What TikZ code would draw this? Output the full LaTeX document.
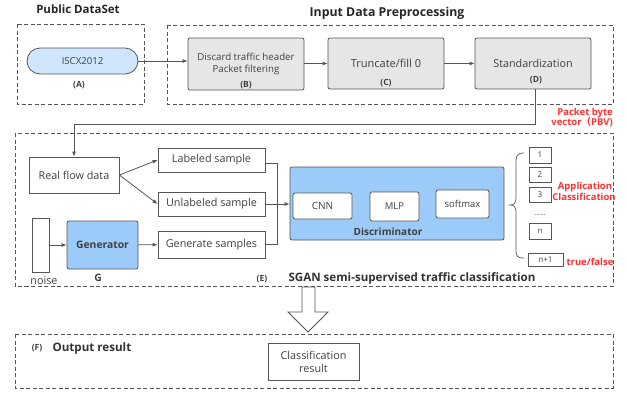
\documentclass[tikz,border=0pt]{standalone}
\usepackage{fontspec}
\setmainfont{Open Sans}
\newfontfamily\cjk{Noto Sans CJK SC}
\usetikzlibrary{arrows.meta}
\definecolor{lblue}{HTML}{9CCBFA}
\definecolor{pblue}{HTML}{CFE6FD}
\definecolor{gfill}{HTML}{E6E6E6}
\definecolor{edge}{HTML}{555555}
\definecolor{txt}{HTML}{404040}
\definecolor{rtxt}{HTML}{FF3030}
\tikzset{
  dbox/.style={draw=edge, dash pattern=on 4pt off 2.5pt, line width=0.7pt},
  gbox/.style={draw=edge, fill=gfill, rounded corners=2pt, line width=0.8pt, inner sep=0pt, align=center, text=txt},
  wbox/.style={draw=edge, fill=white, line width=0.8pt, inner sep=0pt, align=center, text=txt, font=\fontsize{10.8}{12}\selectfont},
  bbox/.style={draw=edge, fill=lblue, rounded corners=2pt, line width=0.8pt, inner sep=0pt, align=center, text=txt},
  sbox/.style={draw=edge, fill=white, line width=0.7pt, inner sep=0pt, text=txt, font=\fontsize{8}{9}\selectfont},
  ttl/.style={font=\bfseries\fontsize{11.5}{13}\selectfont, text=black!85},
  lbl/.style={font=\bfseries\fontsize{8.5}{9}\selectfont, text=txt},
  red/.style={font=\bfseries\fontsize{9.5}{10}\selectfont, text=rtxt, inner sep=0pt},
  arr/.style={-{Latex[length=5pt,width=4pt]}, draw=edge, line width=0.8pt},
  ln/.style={draw=edge, line width=0.8pt}
}
\begin{document}
\begin{tikzpicture}[x=1pt,y=-1pt]
\useasboundingbox (0,0) rectangle (627,394);
% dashed groups
\draw[dbox] (17,24) rectangle (144,104);
\draw[dbox] (167,25) rectangle (613,104);
\draw[dbox] (15,133) rectangle (613,286);
\draw[dbox] (15,334) rectangle (613,388);
% titles
\node[ttl] (tA) at (78,9) {Public DataSet};
\node[ttl, font=\bfseries\fontsize{12.3}{14}\selectfont] (tP) at (387,13) {Input Data Preprocessing};
% top row
\node[draw=edge, fill=pblue, rounded corners=13pt, minimum width=111pt, minimum height=26pt, line width=0.8pt, text=txt, font=\fontsize{9.6}{10}\selectfont, inner sep=0pt] (A) at (82.5,61) {ISCX2012};
\node[lbl] (lA) at (79,85) {(A)};
\node[gbox, minimum width=116pt, minimum height=52pt] (B) at (246,64) {};
\node[text=txt, align=center, font=\fontsize{9.7}{12}\selectfont] (Bt) at (246,64) {Discard traffic header\\Packet filtering};
\node[lbl] (lB) at (246,85) {(B)};
\node[gbox, minimum width=116pt, minimum height=51pt] (C) at (386,63.5) {};
\node[text=txt, font=\fontsize{11}{12}\selectfont] (Ct) at (386,63) {Truncate/fill 0};
\node[lbl] (lC) at (386,83) {(C)};
\node[gbox, minimum width=116pt, minimum height=51pt] (D) at (533,63.5) {};
\node[text=txt, font=\fontsize{10.8}{12}\selectfont] (Dt) at (533,63) {Standardization};
\node[lbl] (lD) at (536,80) {(D)};
\draw[arr] (A.east) -- (A.east -| B.west);
\draw[arr] (B.east |- C) -- (C.west);
\draw[arr] (C.east) -- (D.west);
% PBV
\node[red, anchor=east] (p1) at (613,113) {Packet byte};
\node[red, anchor=east] (p2) at (613,122.5) {vector{\cjk （}PBV)};
% SGAN section
\node[wbox, minimum width=90pt, minimum height=36pt] (R) at (74,175) {Real flow data};
\node[wbox, minimum width=107pt, minimum height=24pt] (L) at (211.5,160) {Labeled sample};
\node[wbox, minimum width=107pt, minimum height=24pt] (U) at (211.5,204) {Unlabeled sample};
\node[wbox, minimum width=107pt, minimum height=27pt] (Gs) at (211.5,244.5) {Generate samples};
\node[wbox, minimum width=17pt, minimum height=54pt] (N) at (40.5,245) {};
\node[text=txt, font=\fontsize{10.8}{12}\selectfont] (Nt) at (44,281) {noise};
\node[bbox, minimum width=71pt, minimum height=48pt, font=\bfseries\fontsize{10.3}{11}\selectfont] (G) at (102.5,245) {Generator};
\node[font=\bfseries\fontsize{10.3}{11}\selectfont, text=txt] (Gl) at (98,278) {G};
\coordinate (pbv) at (535,124);
\draw[arr] (pbv |- D.south) -- (pbv) -- (pbv -| R) -- (R.north);
\draw[arr] (R.east) -- (L.west);
\draw[arr] (R.east) -- (U.west);
\draw[arr] (N) -- (G);
\draw[arr] (G) -- (Gs);
\node[bbox, minimum width=214pt, minimum height=73pt] (Dis) at (397,203.5) {};
\node[font=\bfseries\fontsize{10}{11}\selectfont, text=txt] (Dl) at (388,231.5) {Discriminator};
\node[wbox, rounded corners=2pt, minimum width=59pt, minimum height=26pt, font=\fontsize{10}{11}\selectfont] (cnn) at (322.5,206) {CNN};
\node[wbox, rounded corners=2pt, minimum width=49pt, minimum height=29pt, font=\fontsize{9.5}{11}\selectfont] (mlp) at (394.5,206.5) {MLP};
\node[wbox, rounded corners=2pt, minimum width=53pt, minimum height=28pt, font=\fontsize{9.5}{11}\selectfont] (sm) at (462.5,204) {softmax};
\coordinate (mx) at (277,204);
\draw[ln] (L.east |- 0,163) -- (mx |- 0,163) -- (mx |- Gs) -- (Gs.east);
\draw[arr] (U.east) -- (U.east -| Dis.west);
% outputs
\node[sbox, minimum width=22pt, minimum height=16pt] (o1) at (540,155) {1};
\node[sbox, minimum width=22pt, minimum height=15pt] (o2) at (540,174.5) {2};
\node[sbox, minimum width=22pt, minimum height=15pt] (o3) at (540,194.5) {3};
\node[text=txt, font=\fontsize{7}{7}\selectfont] (dots) at (540,215) {......};
\node[sbox, minimum width=22pt, minimum height=16pt] (on) at (540,231) {n};
\node[sbox, minimum width=35pt, minimum height=13pt] (on1) at (545.5,259.5) {n+1};
\draw[ln, line width=0.7pt] (524,153) .. controls (517,153) and (516,156) .. (516,162) -- (516,198) .. controls (516,203) and (514,205) .. (510,205) .. controls (514,205) and (516,207) .. (516,212) -- (516,250) .. controls (516,256) and (517,258) .. (524,258);
\node[red] (ap) at (585,187) {Application};
\node[red] (cl) at (584,196.5) {Classification};
\node[red] (tf) at (590,262) {true/false};
\node[lbl] (lE) at (262,279) {(E)};
\node[font=\bfseries\fontsize{11.6}{13}\selectfont, text=black!80] (Et) at (412,278) {SGAN semi-supervised traffic classification};
% big arrow
\draw[draw=edge, fill=white, line width=0.8pt] (302,287) -- (315,287) -- (315,312) -- (328,312) -- (308,332) -- (288,312) -- (302,312) -- cycle;
% output
\node[lbl] (lF) at (37,348) {(F)};
\node[font=\bfseries\fontsize{11.6}{13}\selectfont, text=black!80, anchor=west] (Ft) at (49,348) {Output result};
\node[wbox, minimum width=91pt, minimum height=37pt, font=\fontsize{10.8}{13}\selectfont] (res) at (313.5,361.5) {Classification\\result};
\end{tikzpicture}
\end{document}
